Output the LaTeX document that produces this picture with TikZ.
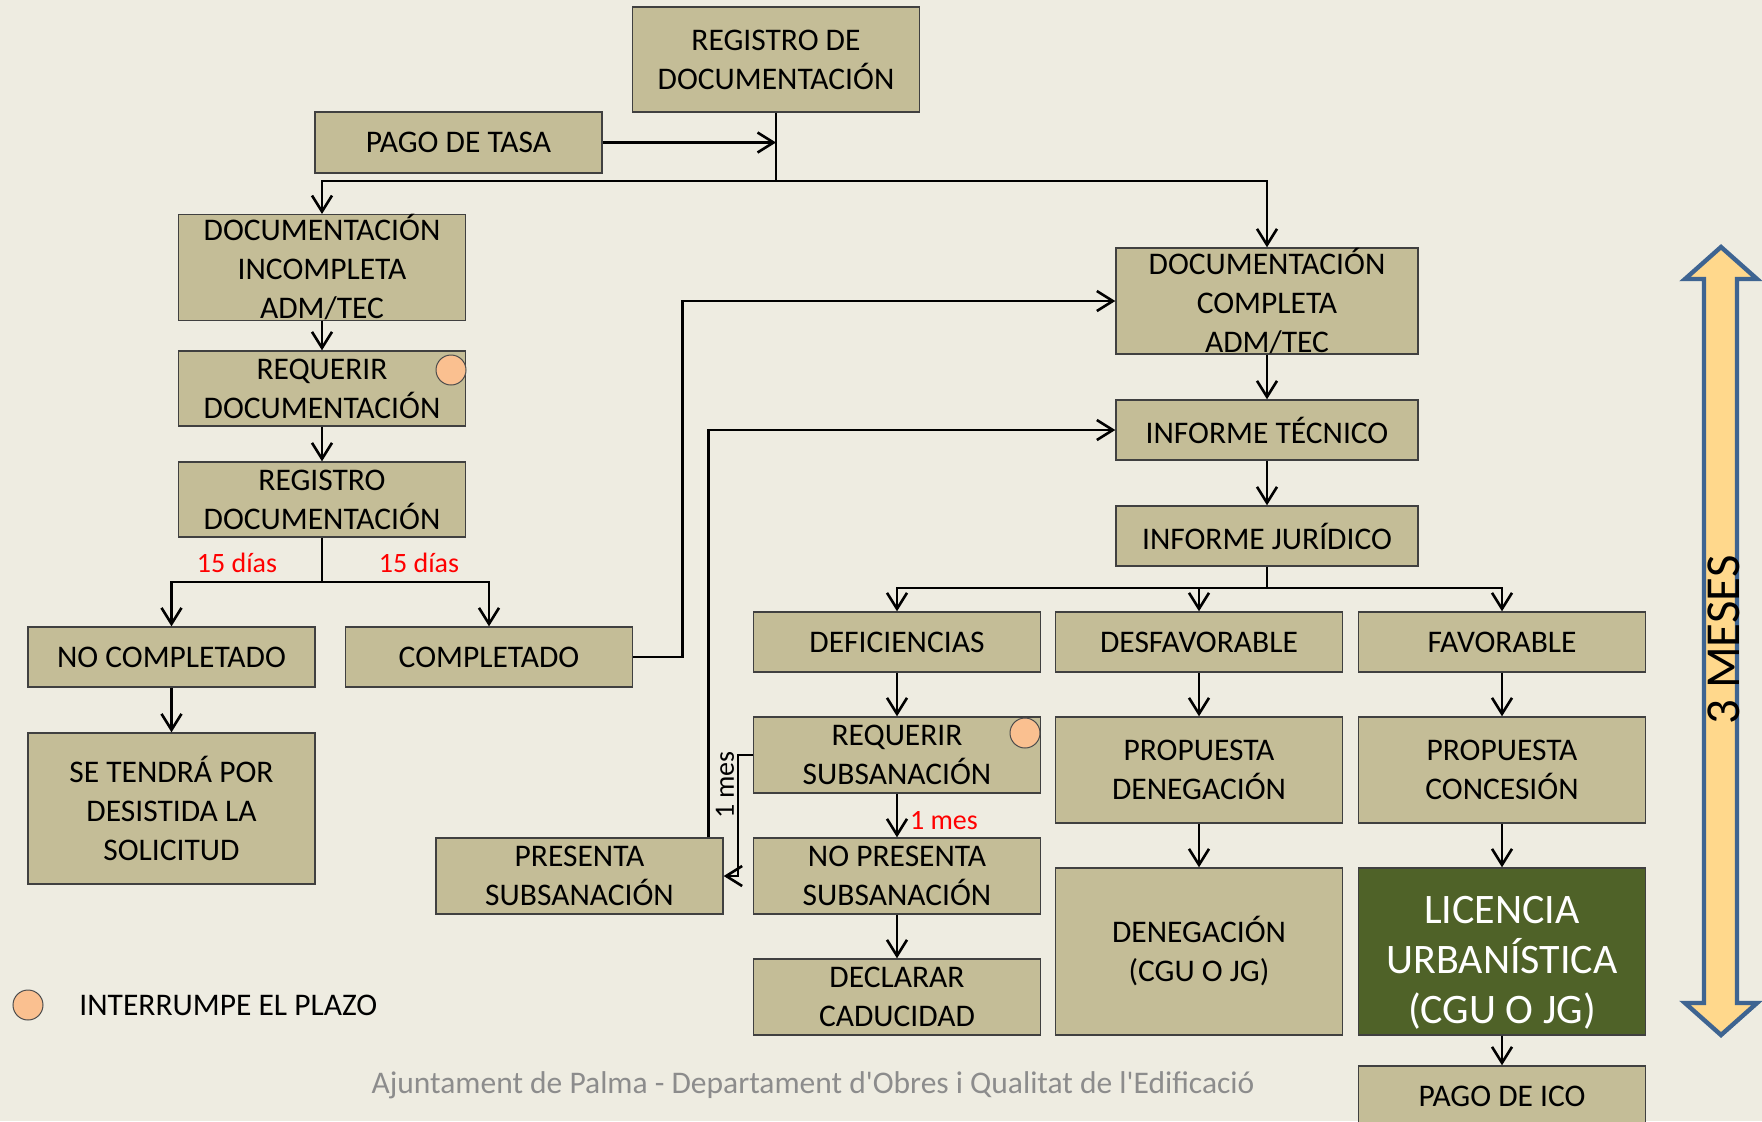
\documentclass[tikz,border=0pt]{standalone}
\usepackage{fontspec}
\setmainfont{Carlito}[Ligatures=TeXOff]
\usetikzlibrary{arrows.meta,calc}
\definecolor{fondo}{HTML}{EEECE1}
\definecolor{caqui}{HTML}{C4BD97}
\definecolor{oliva}{HTML}{4F6228}
\definecolor{naranja}{HTML}{FAC090}
\definecolor{oro}{HTML}{FFD88C}
\definecolor{azul}{HTML}{3E6491}
\definecolor{rojo}{HTML}{FF0000}
\begin{document}
\begin{tikzpicture}[x=0.5pt,y=-0.5pt,
		caja/.style={rectangle,draw=black!75,line width=0.7pt,fill=caqui,align=center,inner sep=0pt,
			minimum width=143.5pt,minimum height=30pt,font=\fontsize{15.75}{19.5}\selectfont},
		verde/.style={caja,fill=oliva,text=white,font=\fontsize{21}{25}\selectfont},
		punto/.style={circle,draw=black!70,line width=0.5pt,fill=naranja,minimum size=15pt,inner sep=0pt},
		flecha/.style={->,line width=1.3pt},
		plazo/.style={text=rojo,font=\fontsize{14}{16}\selectfont},
		>={Straight Barb[length=8pt,width=10pt]}]

		\useasboundingbox (0,0) rectangle (1762,1121);
		\clip (0,0) rectangle (1762,1121);
		\fill[fondo] (0,0) rectangle (1762,1121);

		\node[caja,minimum height=52.5pt] (reg) at (776,59.5) {REGISTRO DE\\DOCUMENTACIÓN};
		\node[caja,minimum height=30.5pt] (tasa) at (458.5,142.5) {PAGO DE TASA};
		\node[caja,minimum height=52.5pt] (incompleta) at (322,267.5) {DOCUMENTACIÓN\\INCOMPLETA\\ADM/TEC};
		\node[caja,minimum height=37.5pt] (reqdoc) at (322,388.5) {REQUERIR\\DOCUMENTACIÓN};
		\node[caja,minimum height=37.5pt] (regdoc) at (322,499.5) {REGISTRO\\DOCUMENTACIÓN};
		\node[caja] (nocomp) at (171.5,657) {NO COMPLETADO};
		\node[caja] (comp) at (489,657) {COMPLETADO};
		\node[caja,minimum height=75.5pt] (desist) at (171.5,808.5) {SE TENDRÁ POR\\DESISTIDA LA\\SOLICITUD};
		\node[caja,minimum height=38pt] (presenta) at (579.5,876) {PRESENTA\\SUBSANACIÓN};

		\node[caja,minimum width=151pt,minimum height=53pt] (completa) at (1267,301) {DOCUMENTACIÓN\\COMPLETA\\ADM/TEC};
		\node[caja,minimum width=151pt] (tecnico) at (1267,430) {INFORME TÉCNICO};
		\node[caja,minimum width=151pt] (juridico) at (1267,536) {INFORME JURÍDICO};
		\node[caja] (defic) at (897,642) {DEFICIENCIAS};
		\node[caja] (desfav) at (1199,642) {DESFAVORABLE};
		\node[caja] (fav) at (1502,642) {FAVORABLE};
		\node[caja,minimum height=38pt] (reqsub) at (897,755) {REQUERIR\\SUBSANACIÓN};
		\node[caja,minimum height=53pt] (propden) at (1199,770) {PROPUESTA\\DENEGACIÓN};
		\node[caja,minimum height=53pt] (propcon) at (1502,770) {PROPUESTA\\CONCESIÓN};
		\node[caja,minimum height=38pt] (nopres) at (897,876) {NO PRESENTA\\SUBSANACIÓN};
		\node[caja,minimum height=38pt] (caduc) at (897,997) {DECLARAR\\CADUCIDAD};
		\node[caja,minimum height=83.5pt] (deneg) at (1199,951.5) {DENEGACIÓN\\(CGU O JG)};
		\node[verde,minimum height=83.5pt] (licencia) at (1502,951.5) {\rule{0pt}{24.5pt}LICENCIA\\URBANÍSTICA\\(CGU O JG)};
		\node[caja] (ico) at (1502,1096) {PAGO DE ICO};

		% puntos de interrupcion
		\node[punto] (int1) at (451,370) {};
		\node[punto] (int2) at (1025,733) {};
		\node[punto] (ley) at (28,1005) {};
		\node[anchor=west,inner sep=0pt,font=\fontsize{15.75}{19.5}\selectfont] (leytxt) at (79,1005) {INTERRUMPE EL PLAZO};

		\coordinate (c1) at (776,181);
		\coordinate (c2) at (322,582);
		\coordinate (c3) at (1267,588);

		\draw[flecha] (tasa.east) -- (tasa.east -| reg.south);
		\draw[line width=1.3pt] (reg.south) -- (c1);
		\draw[flecha] (c1) -| (incompleta.north);
		\draw[flecha] (c1) -| (completa.north);

		\draw[flecha] (incompleta) -- (reqdoc);
		\draw[flecha] (reqdoc) -- (regdoc);
		\draw[line width=1.3pt] (regdoc.south) -- (c2);
		\draw[flecha] (c2) -| (nocomp.north);
		\draw[flecha] (c2) -| (comp.north);
		\node[plazo] (d1) at (237,563) {15 días};
		\node[plazo] (d2) at (419,563) {15 días};
		\draw[flecha] (nocomp) -- (desist);
		\draw[flecha] (comp.east) -- ++(49,0) |- (completa.west);

		\draw[flecha] (completa) -- (tecnico);
		\draw[flecha] (tecnico) -- (juridico);
		\draw[line width=1.3pt] (juridico.south) -- (c3);
		\draw[flecha] (c3) -| (defic.north);
		\draw[flecha] (c3) -| (desfav.north);
		\draw[flecha] (c3) -| (fav.north);

		\draw[flecha] (defic) -- (reqsub);
		\draw[flecha] (reqsub) -- (nopres);
		\node[plazo,anchor=west] (m1) at (903,821) {1 mes};
		\draw[flecha] (nopres) -- (caduc);
		\draw[flecha] (reqsub.west) -- ++(-15,0) |- (presenta.east);
		\node[rotate=90,font=\fontsize{14}{16}\selectfont] (m2) at (725,785) {1 mes};
		\draw[flecha] ($(presenta.north east)+(-15,0)$) |- (tecnico.west);

		\draw[flecha] (desfav) -- (propden);
		\draw[flecha] (propden) -- (deneg);
		\draw[flecha] (fav) -- (propcon);
		\draw[flecha] (propcon) -- (licencia);
		\draw[flecha] (licencia) -- (ico);

		% flecha de 3 meses
		\draw[azul,line width=2.2pt,fill=oro,line join=miter]
			(1721,247) -- (1757,279) -- (1737,279) -- (1737,1003) -- (1757,1003) -- (1721,1035)
			-- (1685,1003) -- (1704,1003) -- (1704,279) -- (1685,279) -- cycle;
		\node[rotate=90,font=\fontsize{24.4}{28}\selectfont] (meses) at (1724,640) {3 MESES};

		\node[text=black!45,font=\fontsize{15.75}{19.5}\selectfont] (pie) at (813,1085)
			{Ajuntament de Palma - Departament d'Obres i Qualitat de l'Edificació};

\end{tikzpicture}
\end{document}
